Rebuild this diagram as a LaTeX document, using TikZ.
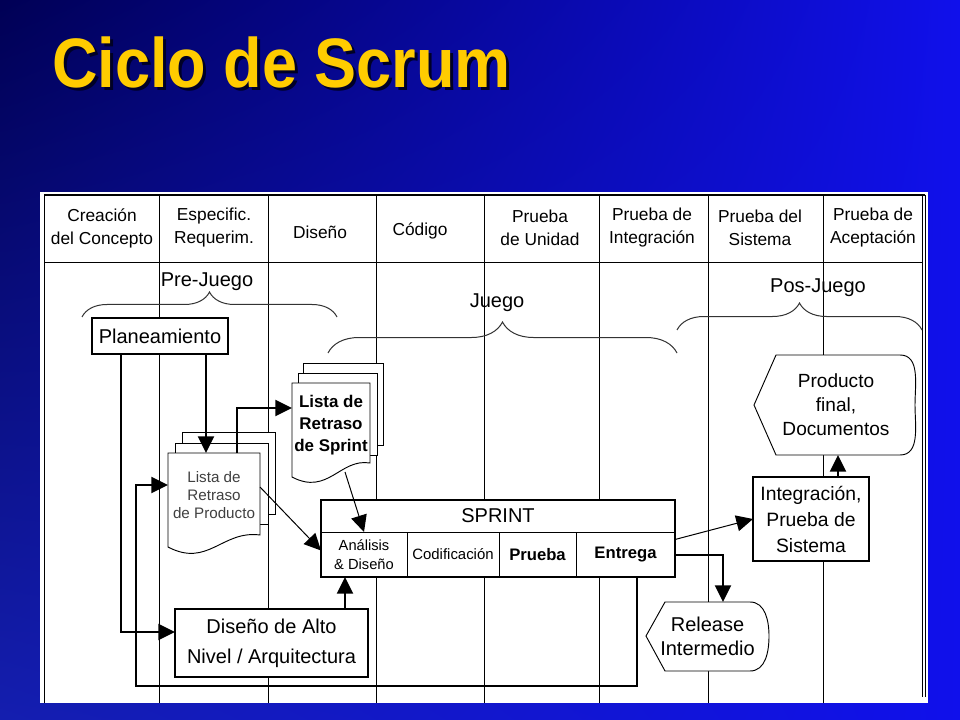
\documentclass[tikz,border=0pt]{standalone}
\usepackage{fontspec}
\setmainfont{Liberation Sans}
\usetikzlibrary{arrows.meta,positioning,decorations.pathreplacing,shadings}

\definecolor{titleyellow}{RGB}{255,204,0}
\definecolor{bgdark}{RGB}{0,0,85}
\definecolor{bglight}{RGB}{16,16,235}
\definecolor{bgmid}{RGB}{20,30,175}

\tikzset{
  hdr/.style={align=center, inner sep=0pt, font=\fontsize{13}{17.25}\selectfont},
  lbl/.style={inner sep=0pt, font=\fontsize{15}{18}\selectfont},
  grid/.style={line width=0.6pt},
  box/.style={draw, fill=white, line width=1pt, align=center, inner sep=0pt, outer sep=0pt},
  cell/.style={box, line width=0.6pt, minimum height=33.75pt},
  txt/.style={align=center, inner sep=0pt, outer sep=0pt},
  sheet/.style={draw, fill=white, line width=0.7pt},
  conn/.style={line width=1.5pt, -{Triangle[length=12.5pt,width=12pt]}},
  thin/.style={line width=0.75pt, -{Triangle[length=12.5pt,width=12pt]}},
  bracegrp/.style={decorate, decoration={brace, amplitude=#1}, line width=0.75pt, black!80},
}

\begin{document}
\begin{tikzpicture}[x=0.75pt,y=-0.75pt]
\useasboundingbox (0,0) rectangle (960,720);

% background and title
\shade[upper left=bgdark, upper right=bglight, lower left=bgmid, lower right=bglight] (0,0) rectangle (960,720);
\node[anchor=base west, inner sep=0pt, text=black!85!blue, font=\bfseries\fontsize{52.5}{60}\selectfont] (titleshadow) at (55,91) {\scalebox{0.9}[1]{Ciclo de Scrum}};
\node[anchor=base west, inner sep=0pt, text=titleyellow, font=\bfseries\fontsize{52.5}{60}\selectfont] (title) at (52,88) {\scalebox{0.9}[1]{Ciclo de Scrum}};

% panel and columns
\fill[white] (40,192) rectangle (928,703);
\draw[line width=1.2pt] (44,195) -- (925,195);
\draw[grid] (44,195) -- (44,703);
\draw[grid] (44,262) -- (923,262);
\draw[grid] (922,195) -- (922,697);
\draw[grid] (925,195) -- (925,697);
\foreach \x in {159,268,376,484,599,708,823}
  \draw[grid] (\x,195) -- (\x,703);

\foreach \x/\t in {102/{Creación\\del Concepto}, 214/{Especific.\\Requerim.},
                   540/{Prueba\\de Unidad}, 652/{Prueba de\\Integración}, 760/{Prueba del\\Sistema}, 873/{Prueba de\\Aceptación}}
  \node[hdr] (hd\x) at (\x,228) {\t};
\node[hdr] (hd320) at (320,232) {Diseño};
\node[hdr] (hd420) at (420,231) {Código};

% phases
\draw[bracegrp=18.75pt] (82,317) -- (337,317);
\draw[bracegrp=23.25pt] (328,353) -- (677,353);
\draw[bracegrp=20.25pt] (677,330) -- (922,330);
\node[lbl] (pre) at (207,282) {Pre-Juego};
\node[lbl] (juego) at (497,303) {Juego};
\node[lbl] (pos) at (818,288) {Pos-Juego};

% backlogs
\draw[sheet] (182,432) rectangle (275,514);
\draw[sheet] (175,443) rectangle (268,524);
\draw[sheet] (168,453) -- (260,453) -- (260,535) .. controls (222,530) and (208,568) .. (168,547) -- cycle;
\node[txt, text=black!75, font=\fontsize{11.4}{13.5}\selectfont, minimum width=69pt, minimum height=63.75pt] (prodlist) at (214,495.5) {Lista de\\Retraso\\de Producto};

\draw[sheet] (303,363) rectangle (383,445);
\draw[sheet] (298,373) rectangle (377,455);
\draw[sheet] (292,383) -- (370,383) -- (370,463) .. controls (340,458) and (328,496) .. (292,477) -- cycle;
\node[txt, font=\bfseries\fontsize{12.7}{16.5}\selectfont, minimum width=58.5pt, minimum height=63pt] (sprintlist) at (331,425) {Lista de\\Retraso\\de Sprint};

% outputs
\draw[sheet] (754,405) -- (776,355) -- (900,355) to[out=0,in=90] (915,405) to[out=-90,in=0] (900,455) -- (776,455) -- cycle;
\node[txt, font=\fontsize{14.3}{18}\selectfont, minimum width=120.75pt, minimum height=75pt] (prod) at (836,405) {Producto\\final,\\Documentos};

\draw[sheet] (646,636) -- (665,602) -- (750,602) to[out=0,in=90] (769,636) to[out=-90,in=0] (750,671) -- (665,671) -- cycle;
\node[txt, font=\fontsize{15}{18}\selectfont, minimum width=92.25pt, minimum height=51.75pt] (rel) at (707.5,636.5) {Release\\Intermedio};

% boxes
\node[box, minimum width=102pt, minimum height=27pt, font=\fontsize{15}{18}\selectfont] (plan) at (160,336) {Planeamiento};
\node[box, minimum width=144.75pt, minimum height=51pt, font=\fontsize{15}{22.5}\selectfont] (arq) at (271.5,643) {Diseño de Alto\\Nivel / Arquitectura};
\node[box, minimum width=87pt, minimum height=63pt, font=\fontsize{14.5}{19.5}\selectfont] (integ) at (811,519) {Integración,\\Prueba de\\Sistema};

\node[box, line width=0.6pt, minimum width=265.5pt, minimum height=24pt, font=\fontsize{15}{18}\selectfont] (sprint) at (498,516) {SPRINT};
\node[cell, minimum width=64.5pt, anchor=north west, font=\fontsize{11}{14}\selectfont] (ana) at (sprint.south west) {Análisis\\\& Diseño};
\node[cell, minimum width=69pt, right=0pt of ana, font=\fontsize{11.2}{14}\selectfont] (cod) {Codificación};
\node[cell, minimum width=57.75pt, right=0pt of cod, font=\bfseries\fontsize{12.5}{15}\selectfont] (pru) {Prueba};
\node[cell, minimum width=74.25pt, right=0pt of pru, font=\bfseries\fontsize{12.5}{15}\selectfont] (ent) {Entrega};
\draw[line width=1.8pt] (sprint.north west) rectangle (ent.south east);

% flows
\coordinate (pa) at ([shift={(-39,0)}]plan.south);
\coordinate (pb) at ([shift={(46,0)}]plan.south);
\coordinate (aq) at ([shift={(73.5,0)}]arq.north);
\coordinate (lp) at ([shift={(11.5,0)}]ent.south);
\coordinate (lc) at (136,686);
\coordinate (ig) at ([shift={(27,0)}]integ.north);

\draw[conn] (pa) |- ([shift={(0,-11)}]arq.west);
\draw[conn] (pb) -- (pb |- prodlist.north);
\draw[conn] ([shift={(23,0)}]prodlist.north) |- ([shift={(0,-17)}]sprintlist.west);
\draw[thin] ([shift={(0,-8.5)}]prodlist.east) -- ([shift={(0,-4)}]ana.west);
\draw[thin] ([shift={(14,5)}]sprintlist.south) -- (ana.north);
\draw[conn] (aq) -- (aq |- ana.south);
\draw[conn] (lp) |- (lc) |- ([shift={(0,-10.5)}]prodlist.west);
\draw[conn] (ent.east) -| ([shift={(15.5,0)}]rel.north);
\draw[thin] ([shift={(0,-15)}]ent.east) -- (integ.west);
\draw[conn] (ig) -- (ig |- prod.south);
\end{tikzpicture}
\end{document}
